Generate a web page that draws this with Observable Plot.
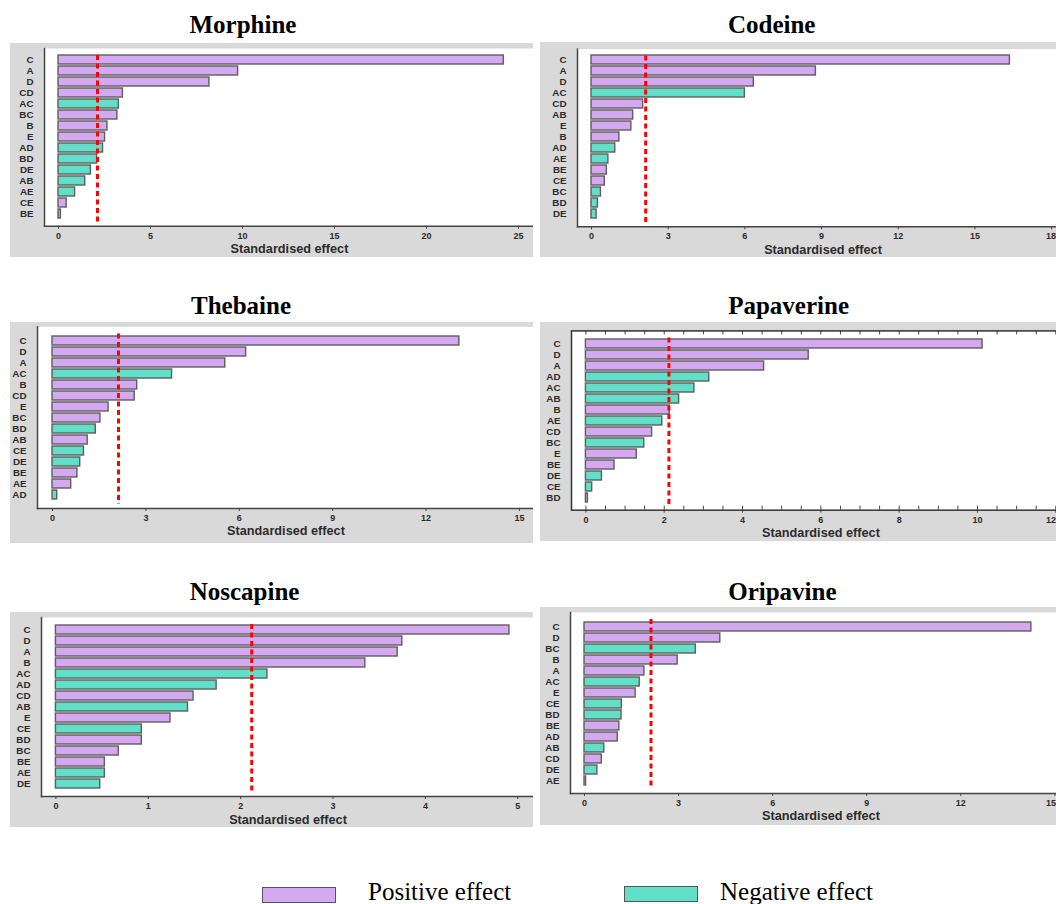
<!DOCTYPE html>
<html>
<head>
<meta charset="utf-8">
<script src="https://cdn.jsdelivr.net/npm/d3@7"></script>
<script src="https://cdn.jsdelivr.net/npm/@observablehq/plot@0.6"></script>
<style>
  html, body { margin:0; padding:0; background:#fff; overflow:hidden; }
  #page { position:relative; width:1056px; height:904px; overflow:hidden; }
  .panel { position:absolute; background:#d9d9d9; overflow:hidden; }
  .panel svg { position:absolute; left:0; top:0; max-width:none !important; }
  .title { position:absolute; font-family:"Liberation Serif","Times New Roman",serif; font-weight:bold; font-size:25px; line-height:25px; white-space:nowrap; transform:translateX(-50%); color:#000; }
  .swatch { position:absolute; box-sizing:border-box; border:1px solid #555; }
  .legend-text { position:absolute; font-family:"Liberation Serif","Times New Roman",serif; font-size:25px; line-height:20px; white-space:nowrap; color:#000; }
</style>
</head>
<body>
<div id="page"></div>
<script>
// ---------------- DATA ----------------
const morphineTerms   = ["C","A","D","CD","AC","BC","B","E","AD","BD","DE","AB","AE","CE","BE"];
const morphineEffects = [24.2, 9.76, 8.2, 3.5, 3.28, 3.2, 2.66, 2.53, 2.42, 2.1, 1.76, 1.45, 0.9, 0.44, 0.13];
const morphineSigns   = ["+","+","+","+","-","+","+","+","-","-","-","-","-","+","-"];

const codeineTerms   = ["C","A","D","AC","CD","AB","E","B","AD","AE","BE","CE","BC","BD","DE"];
const codeineEffects = [16.37, 8.78, 6.35, 6.0, 2.02, 1.63, 1.56, 1.09, 0.93, 0.66, 0.6, 0.52, 0.37, 0.25, 0.2];
const codeineSigns   = ["+","+","+","-","+","+","+","+","-","-","+","+","-","-","-"];

const thebaineTerms   = ["C","D","A","AC","B","CD","E","BC","BD","AB","CE","DE","BE","AE","AD"];
const thebaineEffects = [13.07, 6.22, 5.55, 3.84, 2.72, 2.64, 1.8, 1.54, 1.39, 1.13, 1.01, 0.89, 0.8, 0.6, 0.15];
const thebaineSigns   = ["+","+","+","-","+","+","+","+","-","+","-","-","+","+","-"];

const papaverineTerms   = ["C","D","A","AD","AC","AB","B","AE","CD","BC","E","BE","DE","CE","BD"];
const papaverineEffects = [10.13, 5.69, 4.55, 3.15, 2.77, 2.38, 2.14, 1.95, 1.69, 1.49, 1.3, 0.73, 0.41, 0.16, 0.05];
const papaverineSigns   = ["+","+","+","-","-","-","+","-","+","-","+","+","-","-","+"];

const noscapineTerms   = ["C","D","A","B","AC","AD","CD","AB","E","CE","BD","BC","BE","AE","DE"];
const noscapineEffects = [4.91, 3.75, 3.7, 3.35, 2.29, 1.74, 1.49, 1.43, 1.24, 0.93, 0.93, 0.68, 0.53, 0.53, 0.48];
const noscapineSigns   = ["+","+","+","+","-","-","+","-","+","-","+","+","+","-","-"];

const oripavineTerms   = ["C","D","BC","B","A","AC","E","CE","BD","BE","AD","AB","CD","DE","AE"];
const oripavineEffects = [14.25, 4.33, 3.55, 2.97, 1.91, 1.76, 1.63, 1.19, 1.18, 1.11, 1.06, 0.63, 0.55, 0.41, 0.05];
const oripavineSigns   = ["+","+","-","+","+","-","+","-","-","+","+","-","+","-","+"];

const morphineTicks   = [0, 5, 10, 15, 20, 25];
const codeineTicks    = [0, 3, 6, 9, 12, 15, 18];
const thebaineTicks   = [0, 3, 6, 9, 12, 15];
const papaverineTicks = [0, 2, 4, 6, 8, 10, 12];
const noscapineTicks  = [0, 1, 2, 3, 4, 5];
const oripavineTicks  = [0, 3, 6, 9, 12, 15];

const criticalEffect = 2.12;
const xAxisLabel = "Standardised effect";
const signDomain = ["+", "-"];
const signLabels = ["Positive effect", "Negative effect"];

// ---------------- STYLE / LAYOUT ----------------
const purple = "#d4a9f2";
const teal = "#62dfc8";
const barStroke = "#5e5e5e";
const axisColor = "#444";
const textColor = "#2b2b2b";
const font = "'Liberation Sans', Arial, sans-serif";
const pageRight = 1056;

const panels = [
  {name:"Morphine",   terms:morphineTerms,   effects:morphineEffects,   signs:morphineSigns,   ticks:morphineTicks,
   box:[10,43.3,533,256.7],  frameLeft:44,  frameTop:48.3,  frameRight:534,  axisY:226,   zeroX:58,    unit:18.4,  firstY:58.7,  lastY:215.7, title:[243,33.3]},
  {name:"Codeine",    terms:codeineTerms,    effects:codeineEffects,    signs:codeineSigns,    ticks:codeineTicks,
   box:[540,41.7,1056,256.7], frameLeft:577, frameTop:48.3,  frameRight:1068, axisY:226,   zeroX:591,   unit:25.56, firstY:58.3,  lastY:214.3, title:[771.7,33.3]},
  {name:"Thebaine",   terms:thebaineTerms,   effects:thebaineEffects,   signs:thebaineSigns,   ticks:thebaineTicks,
   box:[10,322.3,533,543],   frameLeft:37,  frameTop:326.7, frameRight:534,  axisY:508.3, zeroX:52,    unit:31.13, firstY:337.7, lastY:497,   title:[241,314]},
  {name:"Papaverine", terms:papaverineTerms, effects:papaverineEffects, signs:papaverineSigns, ticks:papaverineTicks,
   box:[540,322.3,1056,541], frameLeft:571, frameTop:330.7, frameRight:1070, axisY:510,   zeroX:585.4, unit:39.16, firstY:340.7, lastY:500,   title:[788.6,314], boxed:true, minorStep:0.5},
  {name:"Noscapine",  terms:noscapineTerms,  effects:noscapineEffects,  signs:noscapineSigns,  ticks:noscapineTicks,
   box:[10,611.7,533,826.7], frameLeft:41,  frameTop:616.7, frameRight:534,  axisY:795.7, zeroX:55.4,  unit:92.37, firstY:627.3, lastY:785.7, title:[244.6,600]},
  {name:"Oripavine",  terms:oripavineTerms,  effects:oripavineEffects,  signs:oripavineSigns,  ticks:oripavineTicks,
   box:[540,607.3,1056,825], frameLeft:570, frameTop:612.3, frameRight:1071, axisY:793.3, zeroX:584,   unit:31.36, firstY:623.3, lastY:783.3, title:[782.4,600]}
];

const page = document.getElementById("page");
const pad = 0.2;
const fmt = d3.format("d");

for (const p of panels) {
  const data = p.terms.map((t, i) => ({term: t, effect: p.effects[i], sign: p.signs[i]}));
  const [bx0, by0, bx1, by1] = p.box;
  const W = p.frameRight - bx0;
  const H = by1 - by0;
  const step = (p.lastY - p.firstY) / (p.terms.length - 1);
  const r0 = p.firstY - step * (pad + (1 - pad) / 2);
  const r1 = p.lastY + step * (pad + (1 - pad) / 2);
  const xMax = (p.frameRight - p.zeroX) / p.unit;
  const frameH = p.axisY - p.frameTop;

  // the last tick label is pulled inside the page edge when it would be clipped
  const lastTick = p.ticks[p.ticks.length - 1];
  const lastPos = p.zeroX + lastTick * p.unit;
  const clipLast = lastPos + 6 > pageRight;

  const axisOpts = {tickSize: 3, tickPadding: 3, fontSize: 9, fontWeight: "bold", fill: textColor, stroke: axisColor, label: null, fontFamily: font};

  const marks = [
    Plot.frame({fill: "white", stroke: "none"}),
  ];
  if (p.boxed) {
    const minor = d3.range(0, xMax, p.minorStep);
    marks.push(Plot.ruleX(minor, {stroke: axisColor, strokeWidth: 1, insetBottom: frameH - 4}));
    marks.push(Plot.ruleX(minor, {stroke: axisColor, strokeWidth: 1, insetTop: frameH - 4}));
  }
  marks.push(
    Plot.barX(data, {x: "effect", y: "term", fill: "sign", stroke: barStroke, strokeWidth: 1.4}),
    Plot.ruleX([criticalEffect], {stroke: "red", strokeWidth: 3, strokeDasharray: "5,3.5", insetTop: 7, insetBottom: 4}),
    Plot.axisY({tickSize: 0, tickPadding: 11, fontSize: 9.8, fontWeight: "bold", fill: textColor, label: null, fontFamily: font}),
    Plot.axisX({...axisOpts, ticks: p.ticks, tickFormat: d => (clipLast && d === lastTick) ? "" : fmt(d)}),
    Plot.text([xAxisLabel], {frameAnchor: "bottom", dy: 27, fontSize: 12.7, fontWeight: "bold", fill: textColor, fontFamily: font})
  );
  if (clipLast) {
    marks.push(Plot.axisX({...axisOpts, ticks: [lastTick], tickSize: 0, tickPadding: 6, tickFormat: fmt,
      textAnchor: "end", dx: pageRight - 0.5 - lastPos}));
  }
  if (p.boxed) {
    marks.push(Plot.frame({stroke: "#333", strokeWidth: 1.5}));
  } else {
    marks.push(Plot.frame({anchor: "left", stroke: axisColor, strokeWidth: 1.5}));
    marks.push(Plot.frame({anchor: "bottom", stroke: axisColor, strokeWidth: 1.5}));
  }

  const svg = Plot.plot({
    width: W,
    height: H,
    marginLeft: p.frameLeft - bx0,
    marginTop: p.frameTop - by0,
    marginRight: 0,
    marginBottom: by1 - p.axisY,
    style: {background: "transparent", overflow: "visible", fontFamily: font, maxWidth: "none"},
    x: {domain: [0, xMax], insetLeft: p.zeroX - p.frameLeft},
    y: {domain: p.terms, padding: pad, insetTop: r0 - p.frameTop, insetBottom: p.axisY - r1},
    color: {domain: signDomain, range: [purple, teal]},
    marks
  });
  svg.style.maxWidth = "none";
  svg.style.width = W + "px";
  svg.style.height = H + "px";

  const div = document.createElement("div");
  div.className = "panel";
  div.style.left = bx0 + "px";
  div.style.top = by0 + "px";
  div.style.width = (bx1 - bx0) + "px";
  div.style.height = H + "px";
  div.appendChild(svg);
  page.appendChild(div);

  const t = document.createElement("div");
  t.className = "title";
  t.textContent = p.name;
  t.style.left = p.title[0] + "px";
  t.style.top = (p.title[1] - 20.9) + "px";
  page.appendChild(t);
}

// ---------------- LEGEND ----------------
const legendSwatches = [[262, 887, 74, 16], [624, 886, 74, 16]];
const legendTexts = [[368, 900.5], [720, 900.5]];
const legendColors = [purple, teal];
signLabels.forEach((lab, i) => {
  const s = document.createElement("div");
  s.className = "swatch";
  const [x, y, w, h] = legendSwatches[i];
  s.style.left = x + "px"; s.style.top = y + "px";
  s.style.width = w + "px"; s.style.height = h + "px";
  s.style.background = legendColors[i];
  page.appendChild(s);
  const tx = document.createElement("div");
  tx.className = "legend-text";
  tx.textContent = lab;
  tx.style.left = legendTexts[i][0] + "px";
  tx.style.top = (legendTexts[i][1] - 18.5) + "px";
  page.appendChild(tx);
});
</script>
</body>
</html>
